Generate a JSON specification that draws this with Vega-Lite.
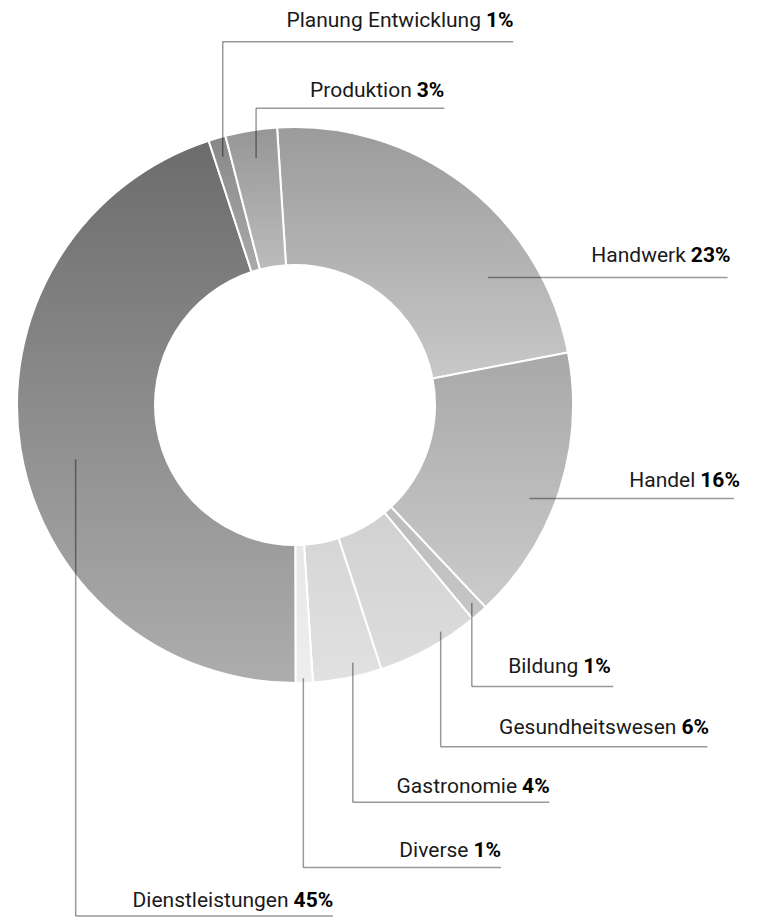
{
  "$schema": "https://vega.github.io/schema/vega-lite/v6.json",
  "width": 758,
  "height": 922,
  "autosize": {"type": "fit", "contains": "padding"},
  "padding": 0,
  "background": "white",
  "config": {"view": {"stroke": null}, "font": "Roboto"},
  "data": {
    "values": [
      {"rank": 1, "name": "Handwerk", "pct": 23, "ax": 69.5, "ay": 45.9, "ly": 45.9, "lx2": 155.6, "tx": 142.4, "ty": 51.3},
      {"rank": 2, "name": "Handel", "pct": 16, "ax": 84.3, "ay": -33.6, "ly": -33.6, "lx2": 157.9, "tx": 145.8, "ty": -29.4},
      {"rank": 3, "name": "Bildung", "pct": 1, "ax": 63.6, "ay": -71.1, "ly": -101.3, "lx2": 114.5, "tx": 103.7, "ty": -96.3},
      {"rank": 4, "name": "Gesundheitswesen", "pct": 6, "ax": 52.4, "ay": -81.5, "ly": -122.9, "lx2": 148.3, "tx": 139.0, "ty": -118.3},
      {"rank": 5, "name": "Gastronomie", "pct": 4, "ax": 20.8, "ay": -92.7, "ly": -142.9, "lx2": 91.5, "tx": 81.7, "ty": -139.5},
      {"rank": 6, "name": "Diverse", "pct": 1, "ax": 3.0, "ay": -98.3, "ly": -166.4, "lx2": 74.1, "tx": 64.2, "ty": -162.7},
      {"rank": 7, "name": "Dienstleistungen", "pct": 45, "ax": -78.9, "ay": -19.5, "ly": -183.8, "lx2": 13.6, "tx": -0.5, "ty": -180.7},
      {"rank": 8, "name": "Planung Entwicklung", "pct": 1, "ax": -26.0, "ay": 89.3, "ly": 130.7, "lx2": 78.5, "tx": 68.7, "ty": 136.1},
      {"rank": 9, "name": "Produktion", "pct": 3, "ax": -14.0, "ay": 88.8, "ly": 106.7, "lx2": 53.7, "tx": 43.8, "ty": 110.7}
    ]
  },
  "transform": [
    {"calculate": "datum.pct + '%'", "as": "pctText"},
    {"stack": "pct", "groupby": [], "sort": [{"field": "rank", "order": "ascending"}], "as": ["t0", "t1"]}
  ],
  "layer": [
    {
      "encoding": {
        "x": {"datum": 0, "type": "quantitative", "axis": null, "scale": {"domain": [-106.12, 166.55], "nice": false, "zero": false}},
        "y": {"datum": 0, "type": "quantitative", "axis": null, "scale": {"domain": [-185.97, 145.68], "nice": false, "zero": false}},
        "theta": {"field": "t0", "type": "quantitative", "scale": {"domain": [0, 100], "range": [-0.0646, 6.2186], "zero": false, "nice": false}},
        "theta2": {"field": "t1"}
      },
      "layer": [
        {"transform": [{"filter": "datum.rank == 1"}], "mark": {"type": "arc", "outerRadius": 278, "innerRadius": 140, "stroke": "white", "strokeWidth": 2,
          "color": {"gradient": "linear", "x1": 0, "y1": 0, "x2": 0, "y2": 1, "stops": [{"offset": 0, "color": "#9b9b9b"}, {"offset": 1, "color": "#c8c8c8"}]}}},
        {"transform": [{"filter": "datum.rank == 2"}], "mark": {"type": "arc", "outerRadius": 278, "innerRadius": 140, "stroke": "white", "strokeWidth": 2,
          "color": {"gradient": "linear", "x1": 0, "y1": 0, "x2": 0, "y2": 1, "stops": [{"offset": 0, "color": "#a8a8a8"}, {"offset": 1, "color": "#cbcbcb"}]}}},
        {"transform": [{"filter": "datum.rank == 3"}], "mark": {"type": "arc", "outerRadius": 278, "innerRadius": 140, "stroke": "white", "strokeWidth": 2,
          "color": {"gradient": "linear", "x1": 0, "y1": 0, "x2": 0, "y2": 1, "stops": [{"offset": 0, "color": "#bdbdbd"}, {"offset": 1, "color": "#c6c6c6"}]}}},
        {"transform": [{"filter": "datum.rank == 4"}], "mark": {"type": "arc", "outerRadius": 278, "innerRadius": 140, "stroke": "white", "strokeWidth": 2,
          "color": {"gradient": "linear", "x1": 0, "y1": 0, "x2": 0, "y2": 1, "stops": [{"offset": 0, "color": "#d1d1d1"}, {"offset": 1, "color": "#dddddd"}]}}},
        {"transform": [{"filter": "datum.rank == 5"}], "mark": {"type": "arc", "outerRadius": 278, "innerRadius": 140, "stroke": "white", "strokeWidth": 2,
          "color": {"gradient": "linear", "x1": 0, "y1": 0, "x2": 0, "y2": 1, "stops": [{"offset": 0, "color": "#d6d6d6"}, {"offset": 1, "color": "#e1e1e1"}]}}},
        {"transform": [{"filter": "datum.rank == 6"}], "mark": {"type": "arc", "outerRadius": 278, "innerRadius": 140, "stroke": "white", "strokeWidth": 2,
          "color": {"gradient": "linear", "x1": 0, "y1": 0, "x2": 0, "y2": 1, "stops": [{"offset": 0, "color": "#e7e7e7"}, {"offset": 1, "color": "#eeeeee"}]}}},
        {"transform": [{"filter": "datum.rank == 7"}], "mark": {"type": "arc", "outerRadius": 278, "innerRadius": 140, "stroke": "white", "strokeWidth": 2,
          "color": {"gradient": "linear", "x1": 0, "y1": 0, "x2": 0, "y2": 1, "stops": [{"offset": 0, "color": "#6c6c6c"}, {"offset": 1, "color": "#adadad"}]}}},
        {"transform": [{"filter": "datum.rank == 8"}], "mark": {"type": "arc", "outerRadius": 278, "innerRadius": 140, "stroke": "white", "strokeWidth": 2,
          "color": {"gradient": "linear", "x1": 0, "y1": 0, "x2": 0, "y2": 1, "stops": [{"offset": 0, "color": "#888888"}, {"offset": 1, "color": "#aaaaaa"}]}}},
        {"transform": [{"filter": "datum.rank == 9"}], "mark": {"type": "arc", "outerRadius": 278, "innerRadius": 140, "stroke": "white", "strokeWidth": 2,
          "color": {"gradient": "linear", "x1": 0, "y1": 0, "x2": 0, "y2": 1, "stops": [{"offset": 0, "color": "#969696"}, {"offset": 1, "color": "#bcbcbc"}]}}}
      ]
    },
    {
      "mark": {"type": "rule", "color": "black", "opacity": 0.4, "strokeWidth": 1.5},
      "encoding": {
        "x": {"field": "ax", "type": "quantitative", "axis": null, "scale": {"domain": [-106.12, 166.55], "nice": false, "zero": false}},
        "y": {"field": "ay", "type": "quantitative", "axis": null, "scale": {"domain": [-185.97, 145.68], "nice": false, "zero": false}},
        "y2": {"field": "ly"}
      }
    },
    {
      "mark": {"type": "rule", "color": "black", "opacity": 0.4, "strokeWidth": 1.5},
      "encoding": {
        "x": {"field": "ax", "type": "quantitative", "axis": null, "scale": {"domain": [-106.12, 166.55], "nice": false, "zero": false}},
        "x2": {"field": "lx2"},
        "y": {"field": "ly", "type": "quantitative", "axis": null, "scale": {"domain": [-185.97, 145.68], "nice": false, "zero": false}}
      }
    },
    {
      "mark": {"type": "text", "align": "right", "baseline": "alphabetic", "font": "Roboto", "fontSize": 21, "fontWeight": "normal", "color": "#1a1a1a", "dx": -5},
      "encoding": {
        "x": {"field": "tx", "type": "quantitative", "axis": null, "scale": {"domain": [-106.12, 166.55], "nice": false, "zero": false}},
        "y": {"field": "ty", "type": "quantitative", "axis": null, "scale": {"domain": [-185.97, 145.68], "nice": false, "zero": false}},
        "text": {"field": "name"}
      }
    },
    {
      "mark": {"type": "text", "align": "left", "baseline": "alphabetic", "font": "Roboto", "fontSize": 21, "fontWeight": "bold", "color": "#000000"},
      "encoding": {
        "x": {"field": "tx", "type": "quantitative", "axis": null, "scale": {"domain": [-106.12, 166.55], "nice": false, "zero": false}},
        "y": {"field": "ty", "type": "quantitative", "axis": null, "scale": {"domain": [-185.97, 145.68], "nice": false, "zero": false}},
        "text": {"field": "pctText"}
      }
    }
  ]
}
